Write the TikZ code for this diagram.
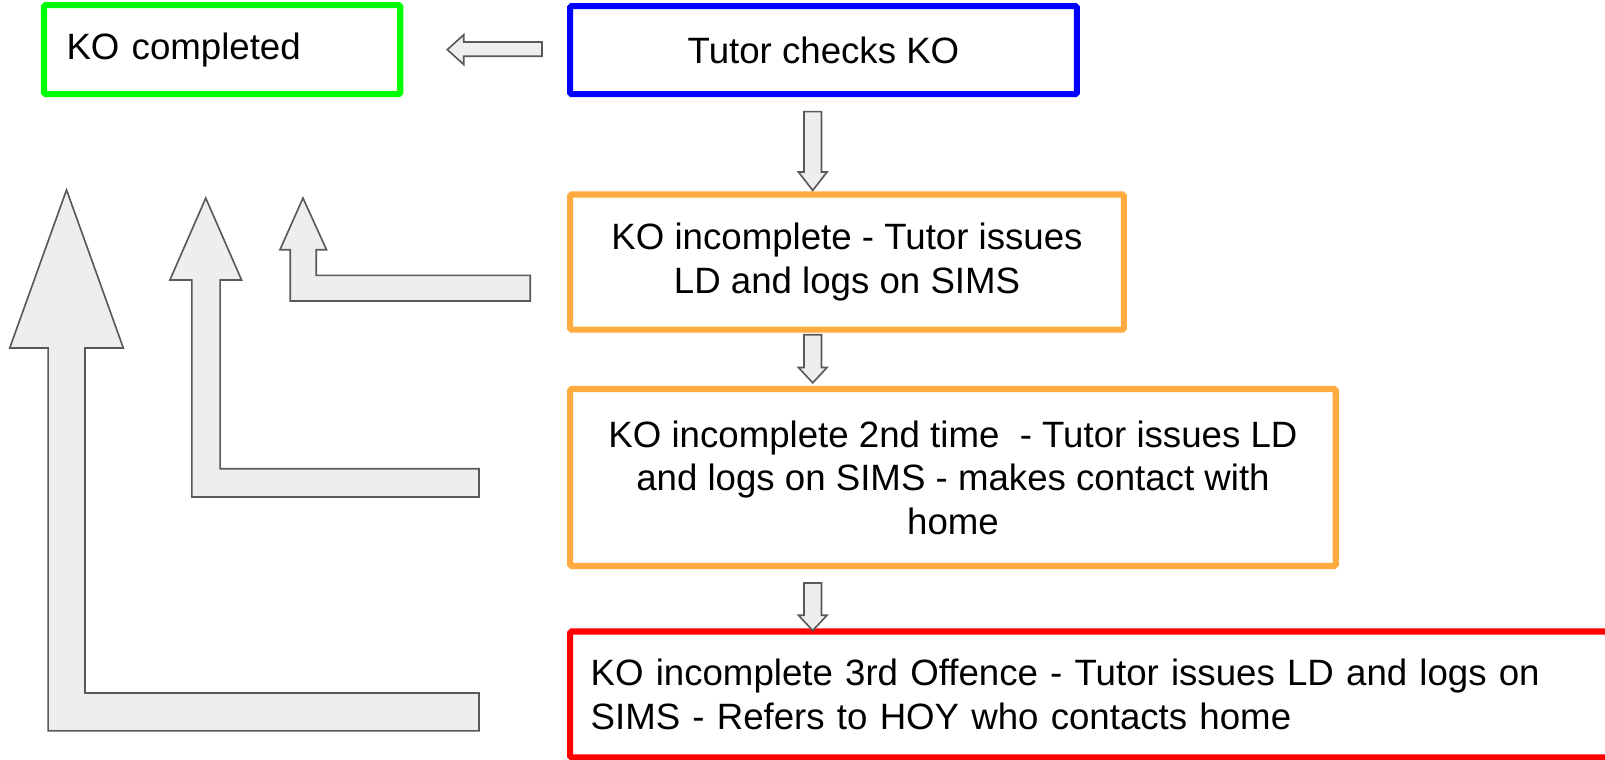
\documentclass[tikz,border=0pt]{standalone}
\usepackage{fontspec}
\setmainfont{Liberation Sans}
\usetikzlibrary{positioning}

\definecolor{kogreen}{RGB}{0,255,0}
\definecolor{koblue}{RGB}{0,0,255}
\definecolor{koorange}{RGB}{255,171,64}
\definecolor{kored}{RGB}{255,0,0}
\definecolor{arrowfill}{RGB}{238,238,238}
\definecolor{arrowline}{RGB}{89,89,89}

\tikzset{
    stage/.style={draw, line width=6pt, rounded corners=1.5pt, inner ysep=0pt,
        font=\fontsize{35.8}{42.5}\selectfont},
    blockarrow/.style={draw=arrowline, fill=arrowfill, line width=1.6pt, line join=miter},
}

\begin{document}
\begin{tikzpicture}[x=1pt,y=-1pt]
    \useasboundingbox (0,0) rectangle (1568,742);
    \clip (0,0) rectangle (1568,742);

    %Shape: Rectangle [done]
    \node [stage, draw=kogreen, minimum width=348, minimum height=87, inner xsep=22pt,
        text width=304pt, align=left] (done) at (217,48.5) {KO completed};
    %Shape: Rectangle [check]
    \node [stage, draw=koblue, minimum width=495, minimum height=86, align=center] (check) at (804.5,49) {Tutor checks KO};
    %Shape: Rectangle [first]
    \node [stage, draw=koorange, minimum width=541, minimum height=132, align=center] (first) at (827.5,256)
        {KO incomplete - Tutor issues\\LD and logs on SIMS};
    %Shape: Rectangle [second]
    \node [stage, draw=koorange, minimum width=748, minimum height=173, align=center] (second) at (931,466.5)
        {KO incomplete 2nd time\ \ - Tutor issues LD\\and logs on SIMS - makes contact with\\home};
    %Shape: Rectangle [third]
    \node [stage, draw=kored, minimum width=1043, minimum height=123, inner xsep=20pt,
        text width=1003pt, align=left] (third) at (1078.5,678.5)
        {KO incomplete 3rd Offence - Tutor issues LD and logs on\\SIMS - Refers to HOY who contacts home};

    %Shape: Left Arrow
    \draw [blockarrow] (529.5,41) -- (453,41) -- (453,34) -- (437,48.5) -- (453,63) -- (453,55) -- (529.5,55) -- cycle;
    %Shape: Down Arrow
    \draw [blockarrow] (785.5,109) -- (802.5,109) -- (802.5,168) -- (808,168) -- (794,186) -- (780,168) -- (785.5,168) -- cycle;
    %Shape: Down Arrow
    \draw [blockarrow] (785.5,327) -- (802.5,327) -- (802.5,359) -- (808,359) -- (794,374) -- (780,359) -- (785.5,359) -- cycle;
    %Shape: Down Arrow
    \draw [blockarrow] (785.5,569.5) -- (802.5,569.5) -- (802.5,601) -- (808,601) -- (794,616) -- (780,601) -- (785.5,601) -- cycle;

    %Shape: Bent Up Arrow [from first]
    \draw [blockarrow] (518,269) -- (309,269) -- (309,244) -- (319,244) -- (296,193.5) -- (273.5,244) -- (283.5,244) -- (283.5,294) -- (518,294) -- cycle;
    %Shape: Bent Up Arrow [from second]
    \draw [blockarrow] (468,458) -- (215,458) -- (215,273.5) -- (236,273.5) -- (201,193.5) -- (166,273.5) -- (187.5,273.5) -- (187.5,485.5) -- (468,485.5) -- cycle;
    %Shape: Bent Up Arrow [from third]
    \draw [blockarrow] (468,677) -- (83,677) -- (83,340) -- (120.5,340) -- (65,185.5) -- (9.5,340) -- (47,340) -- (47,714) -- (468,714) -- cycle;

\end{tikzpicture}
\end{document}
